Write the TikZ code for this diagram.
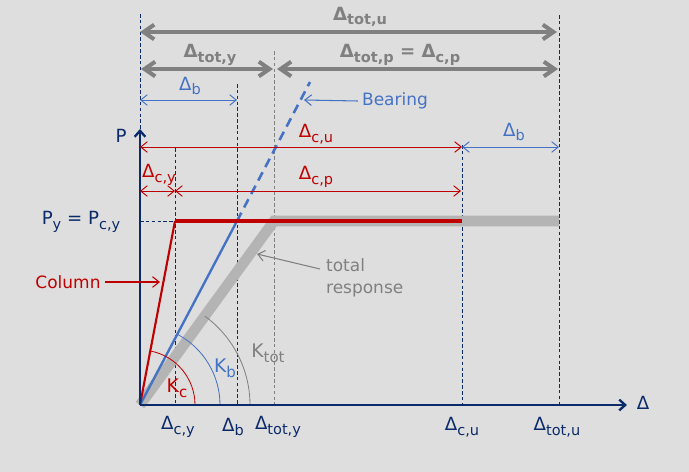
\documentclass[tikz,border=0pt]{standalone}
\usepackage{fontspec}
\setmainfont{DejaVu Sans}
\usepackage{graphicx}
\usetikzlibrary{arrows.meta}

\definecolor{bg}{HTML}{DEDEDE}
\definecolor{navy}{HTML}{0A2A6A}
\definecolor{colred}{HTML}{C00000}
\definecolor{brgblue}{HTML}{4472C4}
\definecolor{dimgray}{HTML}{808080}
\definecolor{totgray}{HTML}{B4B4B4}

% Delta with lowered, smaller subscript
\newcommand{\dlt}[1]{Δ\raisebox{-0.45ex}{\scalebox{0.8}{#1}}}

\begin{document}
\begin{tikzpicture}[
    x=0.03cm, y=-0.03cm,
    axis/.style={
        navy,
        line width=2pt
    },
    guide/.style={
        navy,
        line width=0.7pt,
        dash pattern=on 3pt off 2pt
    },
    gdim/.style={
        dimgray,
        line width=3.4pt,
        {Straight Barb[length=3.2mm, width=4.4mm]}-{Straight Barb[length=3.2mm, width=4.4mm]}
    },
    rdim/.style={
        colred,
        line width=0.8pt,
        {Straight Barb[length=2mm, width=3.2mm]}-{Straight Barb[length=2mm, width=3.2mm]}
    },
    bdim/.style={
        brgblue,
        line width=0.8pt,
        {Straight Barb[length=2mm, width=3.2mm]}-{Straight Barb[length=2mm, width=3.2mm]}
    },
    pointer/.style={
        line width=0.9pt,
        -{Straight Barb[length=2mm, width=3.2mm]}
    },
    glabel/.style={
        text=dimgray,
        font=\fontsize{15.5}{18}\selectfont\bfseries
    },
    tick/.style={
        text=navy,
        font=\fontsize{15.5}{18}\selectfont
    },
    note/.style={
        font=\fontsize{14.5}{19}\selectfont,
        align=left
    }
]

\useasboundingbox[fill=bg] (0,0) rectangle (689,472);

% =============== PONTOS DO DIAGRAMA ===============

\coordinate (o)       at (140,405);
\coordinate (p_top)   at (140,129);
\coordinate (d_end)   at (627,405);
\coordinate (col_y)   at (175,221);
\coordinate (col_u)   at (462,221);
\coordinate (brg_y)   at (237,221);
\coordinate (brg_top) at (310,82);
\coordinate (tot_y)   at (274,221);
\coordinate (tot_u)   at (559,221);
\coordinate (py_left) at (140,221);

% =============== LINHAS DE REFERENCIA ===============

\coordinate (g0_top) at (140,14);
\draw[guide] (g0_top) -- (p_top);
\foreach \gname/\gx/\gtop in {cy/175/148, b/237/84, cu/462/145, tu/559/15} {
    \coordinate (\gname_top) at (\gx,\gtop);
    \coordinate (\gname_bot) at (\gx,405);
    \draw[guide] (\gname_top) -- (\gname_bot);
}
\coordinate (ty_top) at (274,51);
\coordinate (ty_bot) at (274,405);
\draw[guide, dimgray] (ty_top) -- (ty_bot);
\draw[guide] (py_left) -- (col_y);

% =============== CURVAS ===============

% resposta total
\draw[totgray, line width=9pt] (o) -- (tot_y) -- (tot_u);

% apoio (bearing)
\draw[brgblue, line width=2pt] (o) -- (brg_y);
\draw[brgblue, line width=2.2pt, dash pattern=on 8pt off 5pt] (brg_y) -- (brg_top);

% pilar (column)
\draw[colred, line width=1.8pt] (o) -- (col_y);
\draw[colred, line width=3.4pt] (col_y) -- (col_u);

% rigidezes
\draw[colred, line width=0.7pt]  (195,405) arc[start angle=0, end angle=79.2, radius=1.65cm];
\draw[brgblue, line width=0.7pt] (220,405) arc[start angle=0, end angle=62.2, radius=2.4cm];
\draw[dimgray, line width=0.7pt] (250,405) arc[start angle=0, end angle=53.9, radius=3.3cm];

\node[text=colred,  font=\fontsize{16}{18}\selectfont] (k_c)   at (177,388) {K\raisebox{-0.45ex}{\scalebox{0.8}{c}}};
\node[text=brgblue, font=\fontsize{16}{18}\selectfont] (k_b)   at (225,368) {K\raisebox{-0.45ex}{\scalebox{0.8}{b}}};
\node[text=dimgray, font=\fontsize{16}{18}\selectfont] (k_tot) at (268,353) {K\raisebox{-0.45ex}{\scalebox{0.8}{tot}}};

% =============== EIXOS ===============

\draw[axis, -{Straight Barb[length=1.8mm, width=3.2mm]}] (o) -- (p_top);
\draw[axis, -{Straight Barb[length=1.8mm, width=3.2mm]}] (o) -- (d_end);

\node[tick] (lbl_p)     at (121,136) {P};
\node[tick] (lbl_delta) at (643,403) {Δ};
\node[tick] (lbl_py)    at (81,222)  {P\raisebox{-0.45ex}{\scalebox{0.8}{y}} = P\raisebox{-0.45ex}{\scalebox{0.8}{c,y}}};

\node[tick] (t_cy)  at (178,427) {\dlt{c,y}};
\node[tick] (t_b)   at (233,427) {\dlt{b}};
\node[tick] (t_ty)  at (278,427) {\dlt{tot,y}};
\node[tick] (t_cu)  at (462,427) {\dlt{c,u}};
\node[tick] (t_tu)  at (557,427) {\dlt{tot,u}};

% =============== COTAS ===============

\coordinate (a_tu_l) at (140,32);
\coordinate (a_tu_r) at (557,32);
\draw[gdim] (a_tu_l) -- (a_tu_r);
\node[glabel] (lbl_tot_u) at (360,17) {\dlt{tot,u}};

\coordinate (a_ty_l) at (141,69);
\coordinate (a_ty_r) at (273,69);
\coordinate (a_tp_l) at (277,69);
\coordinate (a_tp_r) at (558,69);
\draw[gdim] (a_ty_l) -- (a_ty_r);
\draw[gdim] (a_tp_l) -- (a_tp_r);
\node[glabel] (lbl_tot_y) at (210,55) {\dlt{tot,y}};
\node[glabel] (lbl_tot_p) at (400,55) {\dlt{tot,p} = \dlt{c,p}};

\coordinate (a_b_l) at (140,100);
\coordinate (a_b_r) at (237,100);
\draw[bdim] (a_b_l) -- (a_b_r);
\node[tick, text=brgblue] (lbl_b1) at (190,86) {\dlt{b}};

\coordinate (a_cu_l) at (140,147);
\coordinate (a_cu_r) at (462,147);
\coordinate (a_b2_r) at (559,147);
\draw[rdim] (a_cu_l) -- (a_cu_r);
\draw[bdim] (a_cu_r) -- (a_b2_r);
\node[tick, text=colred]  (lbl_cu) at (316,134) {\dlt{c,u}};
\node[tick, text=brgblue] (lbl_b2) at (514,132) {\dlt{b}};

\coordinate (a_cy_l) at (140,191);
\coordinate (a_cy_r) at (175,191);
\coordinate (a_cp_r) at (461,191);
\draw[rdim] (a_cy_l) -- (a_cy_r);
\draw[rdim] (a_cy_r) -- (a_cp_r);
\node[tick, text=colred] (lbl_cy) at (159,175) {\dlt{c,y}};
\node[tick, text=colred] (lbl_cp) at (316,177) {\dlt{c,p}};

% =============== INDICACOES ===============

\node[note, text=brgblue] (lbl_bearing) at (395,101) {Bearing};
\coordinate (brg_tip) at (304,100);
\draw[pointer, brgblue] (lbl_bearing.west) -- (brg_tip);

\node[note, text=colred] (lbl_column) at (68,282) {Column};
\coordinate (col_tip) at (160,282);
\draw[pointer, colred] (lbl_column.east) -- (col_tip);

\node[note, text=dimgray, anchor=north west] (lbl_total) at (322,254) {total\\response};
\coordinate (tot_src) at (320,269);
\coordinate (tot_tip) at (257,254);
\draw[pointer, dimgray] (tot_src) -- (tot_tip);

\end{tikzpicture}
\end{document}
